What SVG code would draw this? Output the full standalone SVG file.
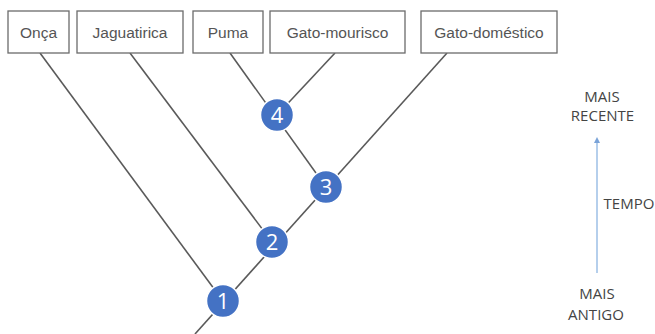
<svg xmlns="http://www.w3.org/2000/svg" width="655" height="334" viewBox="0 0 655 334">
  <style>
    .box rect { fill: #fff; stroke: #6b6b6b; stroke-width: 1.3; }
    .box text { font-family: "Liberation Sans", Arial, sans-serif; font-size: 15.5px; fill: #555; text-anchor: middle; }
    .edge { stroke: #5a5a5a; stroke-width: 1.6; fill: none; }
    .node circle { fill: #4472c4; stroke: #fff; stroke-width: 1.5; }
    .node text { font-family: "Open Sans", "Liberation Sans", sans-serif; font-size: 22px; fill: #fff; text-anchor: middle; }
    .lbl { font-family: "Open Sans", "Liberation Sans", sans-serif; font-size: 15px; fill: #444; text-anchor: middle; }
  </style>
  <defs>
    <marker id="arrowTip" markerWidth="6" markerHeight="6" refX="3" refY="3" orient="auto" markerUnits="userSpaceOnUse">
      <path d="M0,0 L6,3 L0,6 z" fill="#7aa3d8"/>
    </marker>
  </defs>
  <rect width="655" height="334" fill="#fff"/>

  <!-- branches of the tree -->
  <g id="connectors">
    <line class="edge" x1="40" y1="53" x2="223" y2="301"/>
    <line class="edge" x1="130" y1="53" x2="272" y2="242"/>
    <line class="edge" x1="230" y1="53" x2="326" y2="187"/>
    <line class="edge" x1="335" y1="53" x2="277" y2="115"/>
    <line class="edge" x1="447" y1="53" x2="195" y2="334"/>
  </g>

  <!-- species labels -->
  <g id="onca" class="box"><rect x="8" y="11" width="61" height="42"/><text x="38.5" y="37.5">Onça</text></g>
  <g id="jaguatirica" class="box"><rect x="77" y="11" width="106" height="42"/><text x="130" y="37.5">Jaguatirica</text></g>
  <g id="puma" class="box"><rect x="193" y="11" width="70" height="42"/><text x="228" y="37.5">Puma</text></g>
  <g id="gato-mourisco" class="box"><rect x="270" y="11" width="135" height="42"/><text x="337.5" y="37.5">Gato-mourisco</text></g>
  <g id="gato-domestico" class="box"><rect x="421" y="11" width="136" height="42"/><text x="489" y="37.5">Gato-doméstico</text></g>

  <!-- numbered ancestors -->
  <g id="n4" class="node"><circle cx="277" cy="115" r="16.5"/><text x="277" y="123">4</text></g>
  <g id="n3" class="node"><circle cx="326" cy="187" r="16.5"/><text x="326" y="195">3</text></g>
  <g id="n2" class="node"><circle cx="272" cy="242" r="16.5"/><text x="272" y="250">2</text></g>
  <g id="n1" class="node"><circle cx="223" cy="301" r="16.5"/><text x="223" y="309">1</text></g>

  <!-- time axis -->
  <g id="time-axis">
    <line x1="597" y1="273" x2="597" y2="140" stroke="#9dbfe6" stroke-width="1.5" marker-end="url(#arrowTip)"/>
    <text class="lbl" x="602" y="102">MAIS</text>
    <text class="lbl" x="602.5" y="121">RECENTE</text>
    <text class="lbl" x="629" y="209">TEMPO</text>
    <text class="lbl" x="597" y="299">MAIS</text>
    <text class="lbl" x="596" y="320">ANTIGO</text>
  </g>
</svg>
